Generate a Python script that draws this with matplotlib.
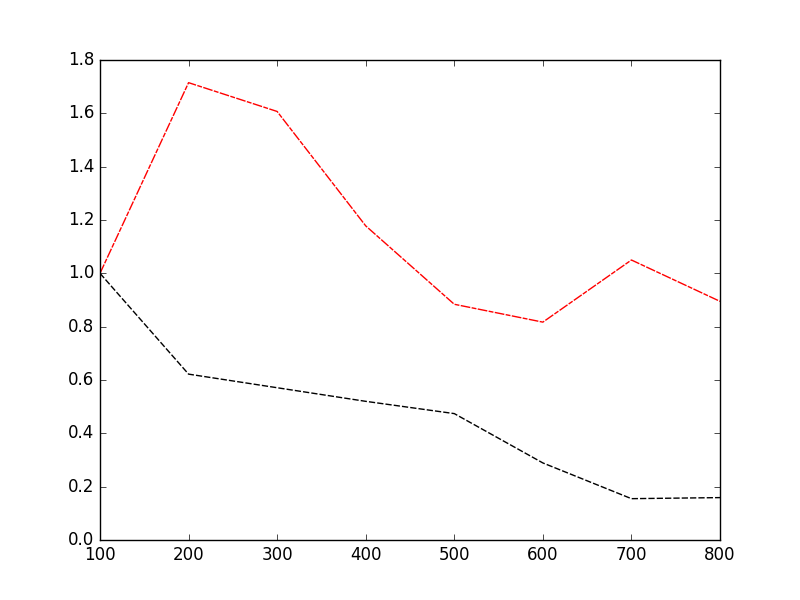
import matplotlib
matplotlib.use("Agg")
import matplotlib.pyplot as plt

plt.style.use("classic")

x = [100, 200, 300, 400, 500, 600, 700, 800]
red_series = [1.0, 1.715, 1.607, 1.178, 0.884, 0.817, 1.05, 0.895]
black_series = [1.0, 0.622, 0.571, 0.52, 0.474, 0.289, 0.155, 0.159]

fig = plt.figure(figsize=(8, 6), dpi=100)
ax = fig.add_subplot(111)
ax.plot(x, red_series, color="red", linewidth=1, dashes=(7, 1, 3.5, 1))
ax.plot(x, black_series, color="black", linewidth=1, dashes=(4.5, 1.5))
ax.set_xlim(100, 800)
ax.set_ylim(0, 1.8)
fig.savefig("out.png", dpi=100)
